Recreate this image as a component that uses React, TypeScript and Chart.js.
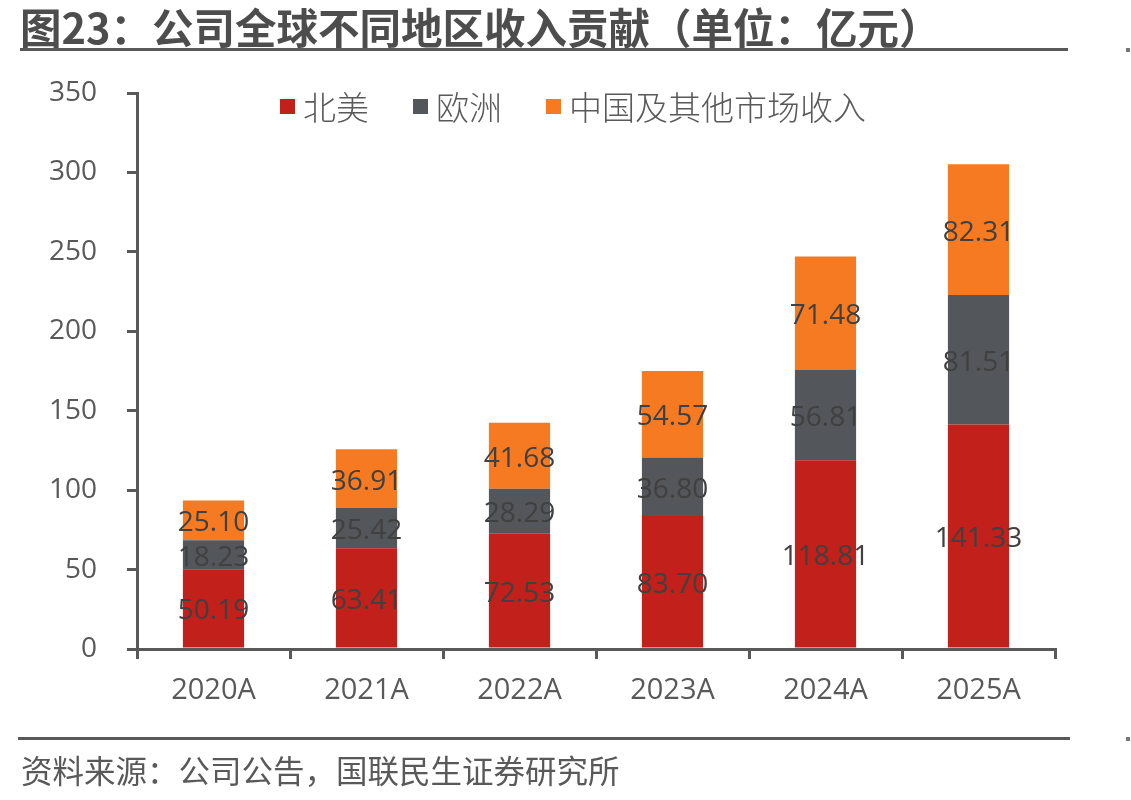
import React, { useEffect, useRef } from "react";
import { Chart, registerables } from "chart.js";

Chart.register(...registerables);

const categories = ["2020A", "2021A", "2022A", "2023A", "2024A", "2025A"];
const northAmerica = [50.19, 63.41, 72.53, 83.7, 118.81, 141.33];
const europe = [18.23, 25.42, 28.29, 36.8, 56.81, 81.51];
const chinaAndOther = [25.1, 36.91, 41.68, 54.57, 71.48, 82.31];
const seriesNames = ["北美", "欧洲", "中国及其他市场收入"];
const seriesColors = ["#C1201B", "#53565A", "#F57A21"];

const AXIS = "#595959";
const NUM_FONT = '"Open Sans", "Noto Sans", sans-serif';
const CJK_FONT = '"Noto Sans CJK SC", "Noto Sans", sans-serif';

// Writes each segment's value in the middle of its bar piece
const segmentLabels = {
  id: "segmentLabels",
  afterDatasetsDraw(chart: any) {
    const ctx = chart.ctx;
    ctx.save();
    ctx.font = `28px ${NUM_FONT}`;
    ctx.fillStyle = "#404040";
    ctx.textAlign = "center";
    ctx.textBaseline = "middle";
    chart.data.datasets.forEach((ds: any, i: number) => {
      const meta = chart.getDatasetMeta(i);
      meta.data.forEach((el: any, j: number) => {
        const p = el.getCenterPoint();
        ctx.fillText(Number(ds.data[j]).toFixed(2), p.x, p.y + 3);
      });
    });
    ctx.restore();
  },
};

export default function App() {
  const canvasRef = useRef<HTMLCanvasElement | null>(null);

  useEffect(() => {
    document.body.style.margin = "0";
    const canvas = canvasRef.current;
    if (!canvas) return;
    const chart = new Chart(canvas, {
      type: "bar",
      data: {
        labels: categories,
        datasets: [northAmerica, europe, chinaAndOther].map((values, i) => ({
          label: seriesNames[i],
          data: values,
          backgroundColor: seriesColors[i],
          borderWidth: 0,
          categoryPercentage: 1,
          barPercentage: 0.4,
        })),
      },
      options: {
        animation: false,
        responsive: false,
        maintainAspectRatio: false,
        layout: { padding: { left: 0, top: 93, right: 76, bottom: 0 } },
        plugins: {
          legend: { display: false },
          title: { display: false },
          tooltip: { enabled: false },
        },
        scales: {
          x: {
            stacked: true,
            offset: true,
            grid: {
              display: true,
              drawOnChartArea: false,
              drawTicks: true,
              tickLength: 10,
              color: AXIS,
              lineWidth: 3,
              offset: true,
            },
            border: { display: true, color: AXIS, width: 3 },
            ticks: {
              color: AXIS,
              font: { family: NUM_FONT, size: 29 },
              padding: 14,
              maxRotation: 0,
            },
            afterFit(scale: any) {
              scale.height = 151;
            },
          },
          y: {
            stacked: true,
            min: 0,
            max: 350,
            grid: {
              display: true,
              drawOnChartArea: false,
              drawTicks: true,
              tickLength: 10,
              color: AXIS,
              lineWidth: 3,
            },
            border: { display: true, color: AXIS, width: 3 },
            ticks: {
              stepSize: 50,
              color: AXIS,
              font: { family: NUM_FONT, size: 28 },
              padding: 30,
            },
            afterFit(scale: any) {
              scale.width = 137;
            },
          },
        },
      },
      plugins: [segmentLabels],
    });
    return () => chart.destroy();
  }, []);

  const legendItems = seriesNames.map((name, i) => (
    <div key={name} style={{ display: "flex", alignItems: "center", marginRight: 44 }}>
      <span style={{ width: 15, height: 15, background: seriesColors[i], display: "inline-block", marginRight: 8 }} />
      <span style={{ fontFamily: CJK_FONT, fontSize: 33, color: AXIS, fontWeight: 300, lineHeight: "36px" }}>{name}</span>
    </div>
  ));

  return (
    <div style={{ position: "relative", width: 1131, height: 800, background: "#fff", overflow: "hidden" }}>
      <canvas ref={canvasRef} width={1131} height={800} style={{ position: "absolute", left: 0, top: 0 }} />
      <div
        style={{
          position: "absolute",
          left: 20,
          top: 3,
          fontFamily: CJK_FONT,
          fontWeight: 700,
          fontSize: 41.5,
          lineHeight: "46px",
          color: "#4D4D4D",
          whiteSpace: "nowrap",
        }}
      >
        图23：公司全球不同地区收入贡献（单位：亿元）
      </div>
      <div style={{ position: "absolute", left: 20, top: 48, width: 1048, height: 3, background: AXIS }} />
      <div style={{ position: "absolute", left: 1126, top: 48, width: 4, height: 4, background: "#777" }} />
      <div style={{ position: "absolute", left: 280, top: 88, display: "flex", alignItems: "center" }}>{legendItems}</div>
      <div style={{ position: "absolute", left: 18, top: 737, width: 1052, height: 3, background: AXIS }} />
      <div style={{ position: "absolute", left: 1126, top: 737, width: 4, height: 4, background: "#777" }} />
      <div
        style={{
          position: "absolute",
          left: 21,
          top: 750,
          fontFamily: CJK_FONT,
          fontSize: 31.5,
          lineHeight: "38px",
          color: AXIS,
          whiteSpace: "nowrap",
        }}
      >
        资料来源：公司公告，国联民生证券研究所
      </div>
    </div>
  );
}
